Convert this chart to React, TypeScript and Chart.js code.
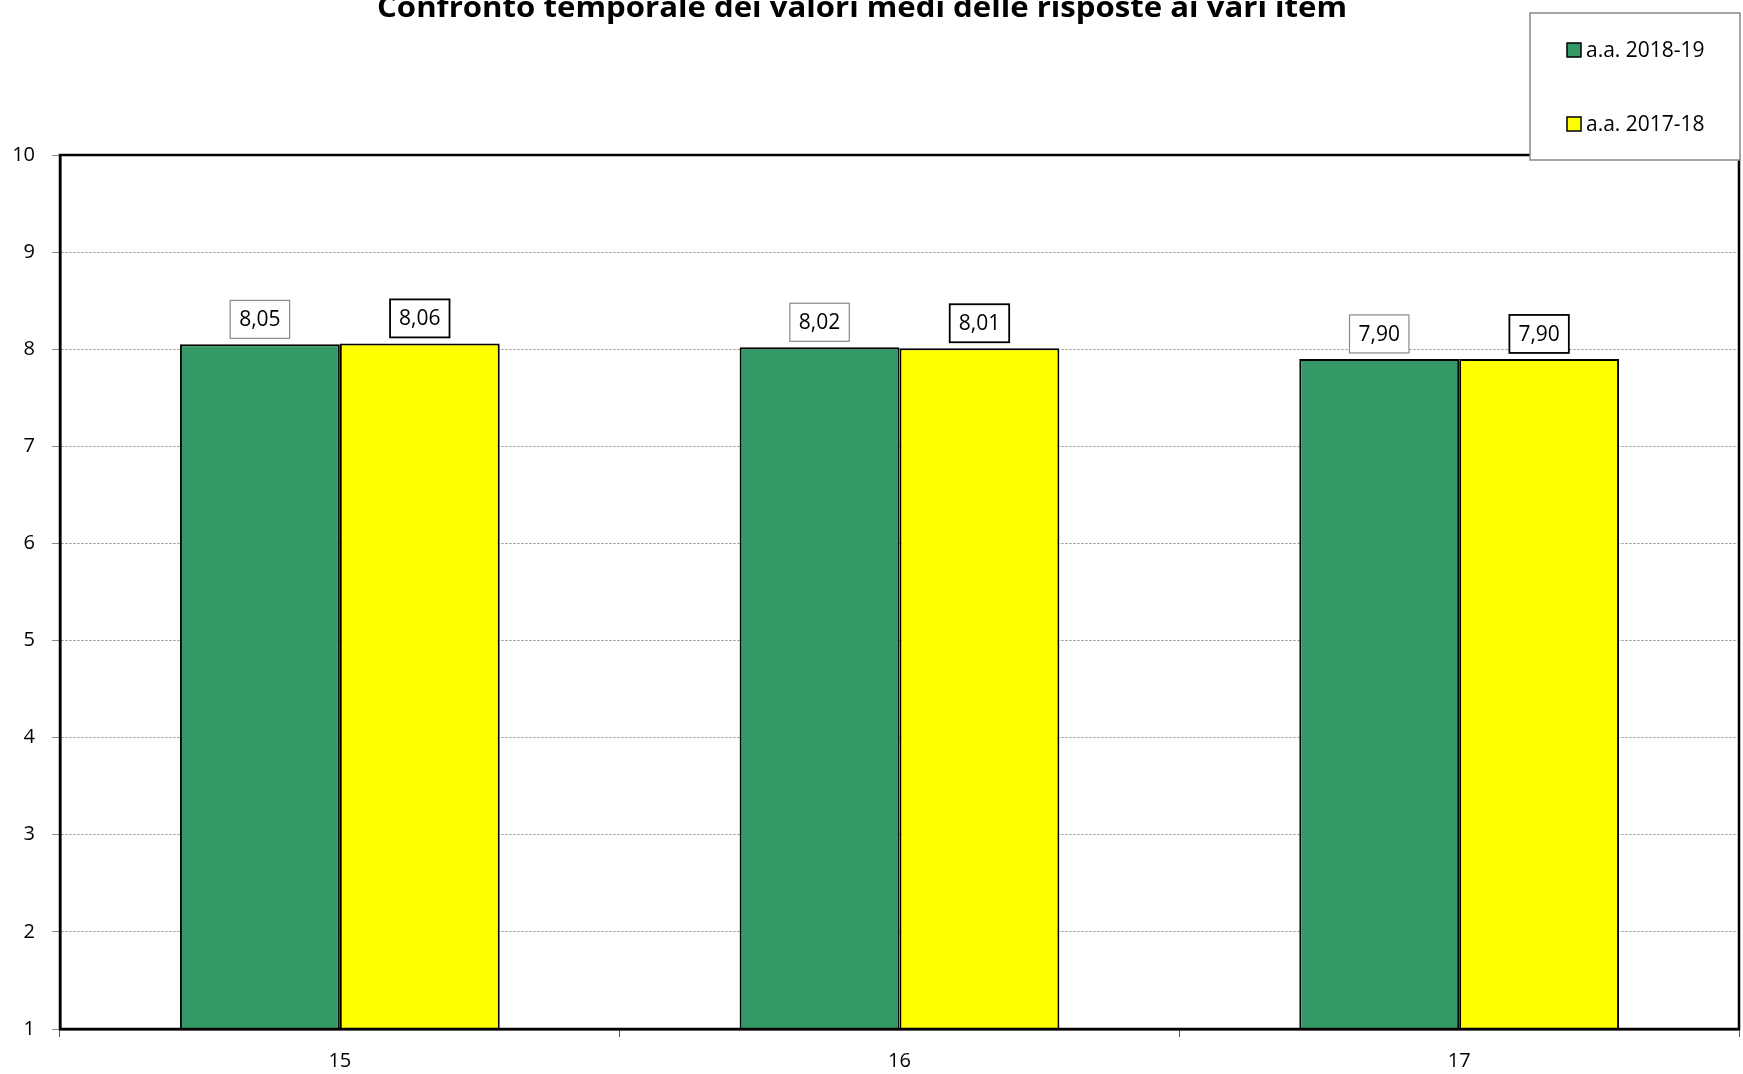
import React, { useEffect, useRef } from "react";
import { Chart, registerables } from "chart.js";

Chart.register(...registerables);

const TITLE = "Confronto temporale dei valori medi delle risposte ai vari item";
const categories = ["15", "16", "17"];
const seriesLabels = ["a.a. 2018-19", "a.a. 2017-18"];
const values2018_19 = [8.05, 8.02, 7.9];
const values2017_18 = [8.06, 8.01, 7.9];
const seriesColors = ["#339966", "#FFFF00"];
const labelBorderColors = ["#8a8a8a", "#000000"];
const yMin = 1;
const yMax = 10;

const FONT = '"Open Sans", "DejaVu Sans", sans-serif';

const fmt = (v: number) => v.toFixed(2).replace(".", ",");

const frameAndDecor = {
  id: "frameAndDecor",
  afterDatasetsDraw(chart: any) {
    const ctx = chart.ctx;
    const { left, right, top, bottom } = chart.chartArea;
    ctx.save();
    ctx.setLineDash([]);
    // value labels
    chart.data.datasets.forEach((ds: any, di: number) => {
      const meta = chart.getDatasetMeta(di);
      meta.data.forEach((bar: any, i: number) => {
        const txt = fmt(ds.data[i]);
        ctx.font = `21px ${FONT}`;
        const w = ctx.measureText(txt).width + 18;
        const h = 38;
        const bx = bar.x - w / 2;
        const by = bar.y - 6 - h;
        ctx.fillStyle = "#ffffff";
        ctx.fillRect(bx, by, w, h);
        ctx.strokeStyle = labelBorderColors[di];
        ctx.lineWidth = di === 0 ? 1.2 : 1.8;
        ctx.strokeRect(bx, by, w, h);
        ctx.fillStyle = "#000";
        ctx.textAlign = "center";
        ctx.textBaseline = "middle";
        ctx.fillText(txt, bar.x, by + h / 2 + 1);
      });
    });
    // plot frame
    ctx.strokeStyle = "#000";
    ctx.lineWidth = 2.5;
    ctx.strokeRect(left, top, right - left, bottom - top);
    ctx.restore();
  },
  afterDraw(chart: any) {
    const ctx = chart.ctx;
    ctx.save();
    ctx.setLineDash([]);
    // legend box
    const lx = 1530, ly = 13, lw = 210, lh = 147;
    ctx.fillStyle = "#fff";
    ctx.fillRect(lx, ly, lw, lh);
    ctx.strokeStyle = "#8a8a8a";
    ctx.lineWidth = 1.5;
    ctx.strokeRect(lx, ly, lw, lh);
    const rows = [50, 124];
    chart.data.datasets.forEach((ds: any, di: number) => {
      const cy = rows[di];
      ctx.fillStyle = ds.backgroundColor;
      ctx.fillRect(1567, cy - 7, 14, 14);
      ctx.strokeStyle = "#000";
      ctx.lineWidth = 1.5;
      ctx.strokeRect(1567, cy - 7, 14, 14);
      ctx.fillStyle = "#000";
      ctx.font = `21px ${FONT}`;
      ctx.textAlign = "left";
      ctx.textBaseline = "middle";
      ctx.fillText(ds.label, 1586, cy + 1);
    });
    // title, stretched to the reference width
    ctx.font = `bold 28px ${FONT}`;
    const tw = ctx.measureText(TITLE).width;
    ctx.translate(862, 17);
    ctx.scale(970 / tw, 1);
    ctx.textAlign = "center";
    ctx.textBaseline = "alphabetic";
    ctx.fillStyle = "#000";
    ctx.fillText(TITLE, 0, 0);
    ctx.restore();
  },
};

export default function App() {
  const ref = useRef<HTMLCanvasElement>(null);
  useEffect(() => {
    if (!ref.current) return;
    const chart = new Chart(ref.current, {
      type: "bar",
      data: {
        labels: categories,
        datasets: [
          {
            label: seriesLabels[0],
            data: values2018_19,
            backgroundColor: seriesColors[0],
            borderColor: "#000",
            borderWidth: 2,
            barPercentage: 1,
            categoryPercentage: 0.5714,
          },
          {
            label: seriesLabels[1],
            data: values2017_18,
            backgroundColor: seriesColors[1],
            borderColor: "#000",
            borderWidth: 2,
            barPercentage: 1,
            categoryPercentage: 0.5714,
          },
        ],
      },
      options: {
        responsive: false,
        animation: false,
        devicePixelRatio: 1,
        layout: { padding: { top: 155, right: 4, left: 0, bottom: 0 } },
        plugins: {
          legend: { display: false },
          title: { display: false },
          tooltip: { enabled: false },
        },
        scales: {
          x: {
            offset: true,
            grid: {
              drawOnChartArea: false,
              drawTicks: true,
              tickLength: 8,
              color: "#555",
              offset: true,
            },
            border: { display: true, color: "#000", width: 2.5 },
            ticks: {
              color: "#000",
              padding: 12,
              font: { family: FONT, size: 20 },
            },
            afterFit: (s: any) => {
              s.height = 45;
            },
          },
          y: {
            min: yMin,
            max: yMax,
            ticks: {
              stepSize: 1,
              color: "#000",
              padding: 17,
              font: { family: FONT, size: 20 },
            },
            grid: {
              color: "#8a8a8a",
              lineWidth: 1,
              tickBorderDash: [],
              tickColor: "#8a8a8a",
              tickLength: 8,
              drawTicks: true,
            },
            border: { display: true, color: "#000", width: 2.5, dash: [2, 2] },
            afterFit: (s: any) => {
              s.width = 60;
            },
          },
        },
      },
      plugins: [frameAndDecor],
    });
    return () => chart.destroy();
  }, []);
  return (
    <div style={{ position: "absolute", left: 0, top: 0, width: 1743, height: 1074, background: "#fff" }}>
      <canvas ref={ref} width={1743} height={1074} style={{ display: "block" }} />
    </div>
  );
}
